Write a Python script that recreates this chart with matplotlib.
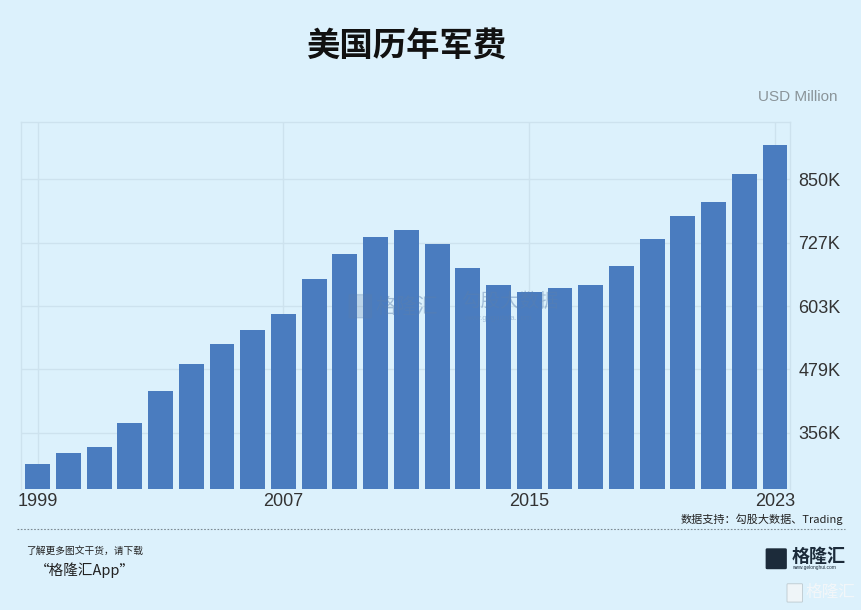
import matplotlib.pyplot as plt
from matplotlib.patches import FancyBboxPatch

plt.rcParams['font.family'] = ['Liberation Sans', 'Noto Sans CJK SC', 'DejaVu Sans']

years = list(range(1999, 2024))
spending = [295.7, 317.0, 328.7, 375.4, 437.7, 490.2, 529.0, 556.3, 587.4, 655.5,
            704.0, 737.2, 750.8, 723.6, 676.9, 643.8, 630.2, 638.0, 643.8, 680.8,
            733.3, 778.0, 805.3, 859.7, 916.0]
x_ticks = [1999, 2007, 2015, 2023]
y_ticks = [356, 479.5, 603, 726.5, 850]
y_labels = ['356K', '479K', '603K', '727K', '850K']

bg = '#dcf1fc'
bar_color = '#4a7cbf'
grid_color = '#cde2ee'

fig = plt.figure(figsize=(8.62, 6.10), dpi=100, facecolor=bg)
ax = fig.add_axes([0.0244, 0.1984, 0.8922, 0.6016], facecolor=bg)

ax.bar(years, spending, width=0.81, color=bar_color, zorder=3)
ax.set_xlim(1998.46, 2023.49)
ax.set_ylim(247, 961)

ax.set_xticks(x_ticks)
ax.set_xticklabels([str(y) for y in x_ticks], fontsize=13, color='#333333')
ax.set_yticks(y_ticks)
ax.set_yticklabels(y_labels, fontsize=13, color='#333333')
ax.yaxis.tick_right()
ax.tick_params(axis='both', length=0)
ax.tick_params(axis='y', pad=6)
ax.tick_params(axis='x', pad=3)
ax.grid(True, color=grid_color, linewidth=1.0, zorder=0)

for side in ['left', 'top', 'right']:
    ax.spines[side].set_color(grid_color)
    ax.spines[side].set_linewidth(1.0)
ax.spines['bottom'].set_visible(False)

# title and unit
fig.text(0.471, 0.924, '美国历年军费', ha='center', va='center', fontsize=24,
         fontweight='bold', family=['Noto Sans CJK SC'], color='#111111')
fig.text(0.972, 0.841, 'USD Million', ha='right', va='center', fontsize=11,
         color='#8a9499')

# faint watermark in the middle
fig.add_artist(FancyBboxPatch((0.406, 0.480), 0.024, 0.036,
                              boxstyle='round,pad=0.001', color='#5a7fae',
                              alpha=0.25, zorder=5))
fig.text(0.436, 0.497, '格隆汇', ha='left', va='center', fontsize=15,
         family=['Noto Sans CJK SC'], color='#5a7fae', alpha=0.45, zorder=5)
fig.text(0.535, 0.505, '勾股大数据', ha='left', va='center', fontsize=14,
         family=['Noto Sans CJK SC'], color='#5a7fae', alpha=0.45, zorder=5)
fig.text(0.538, 0.478, 'www.gugudata.com', ha='left', va='center', fontsize=5.5,
         color='#5a7fae', alpha=0.45, zorder=5)

# source and footer
fig.text(0.978, 0.149, '数据支持：勾股大数据、Trading', ha='right', va='center',
         fontsize=8, family=['Noto Sans CJK SC', 'DejaVu Sans'], color='#222222')
fig.add_artist(plt.Line2D([0.02, 0.98], [0.133, 0.133], color='#7d8a92',
                          linewidth=0.8, linestyle=(0, (1.5, 1.5))))
fig.text(0.03, 0.097, '了解更多图文干货，请下载', ha='left', va='center', fontsize=7,
         style='italic', family=['Noto Sans CJK SC'], color='#222222')
fig.text(0.04, 0.065, '“格隆汇App”', ha='left', va='center', fontsize=10.5,
         style='italic', family=['Noto Sans CJK SC'], color='#222222')

# logo
fig.add_artist(FancyBboxPatch((0.890, 0.069), 0.021, 0.030,
                              boxstyle='round,pad=0.001', color='#1c2b3a'))
fig.text(0.918, 0.088, '格隆汇', ha='left', va='center', fontsize=13,
         fontweight='bold', family=['Noto Sans CJK SC'], color='#1c2b3a')
fig.text(0.919, 0.069, 'www.gelonghui.com', ha='left', va='center', fontsize=3.5,
         color='#1c2b3a')
fig.add_artist(FancyBboxPatch((0.914, 0.014), 0.016, 0.028,
                              boxstyle='round,pad=0.001', facecolor='#f2f6f8',
                              edgecolor='#b8c4ca', linewidth=0.6, alpha=0.9))
fig.text(0.934, 0.028, '格隆汇', ha='left', va='center', fontsize=12,
         family=['Noto Sans CJK SC'], color='#f4f7f9', alpha=0.95)

fig.savefig('out.png', dpi=100, facecolor=bg)
